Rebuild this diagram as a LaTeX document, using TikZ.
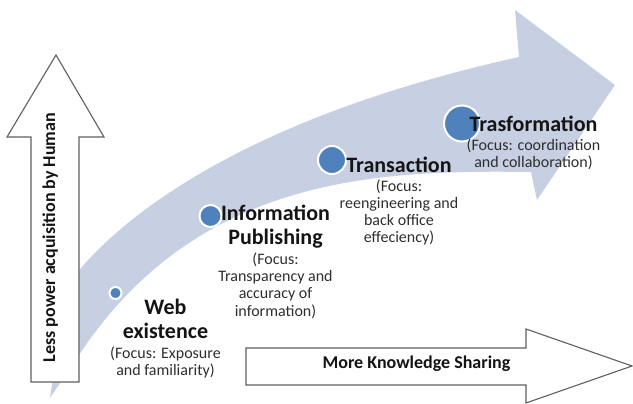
\documentclass[tikz,border=0pt]{standalone}
\usepackage{fontspec}
\setmainfont{Carlito}
\definecolor{band}{RGB}{199,207,226}
\definecolor{dotblue}{RGB}{79,129,189}
\definecolor{edge}{RGB}{95,95,95}
\begin{document}
\begin{tikzpicture}[x=1pt,y=-1pt,
  dot/.style={circle,fill=dotblue,draw=white,line width=2pt,inner sep=0pt},
  ttl/.style={anchor=base,inner sep=0pt,font=\fontsize{22}{24}\selectfont\bfseries,text=black!92},
  foc/.style={anchor=base,inner sep=0pt,font=\fontsize{16}{17}\selectfont,text=black!82},
  lbl/.style={anchor=base,inner sep=0pt,font=\fontsize{18}{20}\selectfont\bfseries,text=black!92},
  blockarrow/.style={fill=white,draw=edge,line width=1.1pt,line join=miter}]
\useasboundingbox (0,0) rectangle (633,404);
% curved band arrow
\fill[band] (50,398) .. controls (60,330) and (68,283) .. (81,268)
  .. controls (140,200) and (270,112) .. (519,57) -- (515,10) -- (615,85)
  -- (537,200) -- (531,172) .. controls (380,170) and (200,175) .. (81,352) -- cycle;
% vertical block arrow
\draw[blockarrow] (31,382) -- (31,137) -- (7,137) -- (56,55) -- (104,137) -- (79,137) -- (79,382) -- cycle;
\node[lbl,rotate=90] (vl) at (55,237.5) {Less power acquisition by Human};
% horizontal block arrow
\draw[blockarrow] (246,348) -- (526,348) -- (526,329) -- (632,366) -- (526,403) -- (526,385) -- (246,385) -- cycle;
\node[lbl] (hl) at (416.5,368) {More Knowledge Sharing};
% dots
\node[dot,minimum size=12pt] (d1) at (115.5,293) {};
\node[dot,minimum size=22pt] (d2) at (210.5,216) {};
\node[dot,minimum size=28pt] (d3) at (332,160) {};
\node[dot,minimum size=36pt] (d4) at (462,123.5) {};
% Web existence
\node[ttl] (w1) at (165.5,314) {Web};
\node[ttl] (w2) at (165.5,338) {existence};
\node[foc] (w3) at (165.5,358) {(Focus: Exposure};
\node[foc] (w4) at (165.5,375) {and familiarity)};
% Information Publishing
\node[ttl] (i1) at (275.5,220) {Information};
\node[ttl] (i2) at (275.5,244.5) {Publishing};
\node[foc] (i3) at (275.5,264) {(Focus:};
\node[foc] (i4) at (275.5,281.5) {Transparency and};
\node[foc] (i5) at (275.5,298.5) {accuracy of};
\node[foc] (i6) at (275.5,316) {information)};
% Transaction
\node[ttl] (t1) at (399,172) {Transaction};
\node[foc] (t2) at (399,191.5) {(Focus:};
\node[foc] (t3) at (399,208.5) {reengineering and};
\node[foc] (t4) at (399,225.5) {back office};
\node[foc] (t5) at (399,242.5) {effeciency)};
% Trasformation
\node[ttl] (f1) at (533.5,131.5) {Trasformation};
\node[foc] (f2) at (533.5,151) {(Focus: coordination};
\node[foc] (f3) at (533.5,167.5) {and collaboration)};
\end{tikzpicture}
\end{document}
